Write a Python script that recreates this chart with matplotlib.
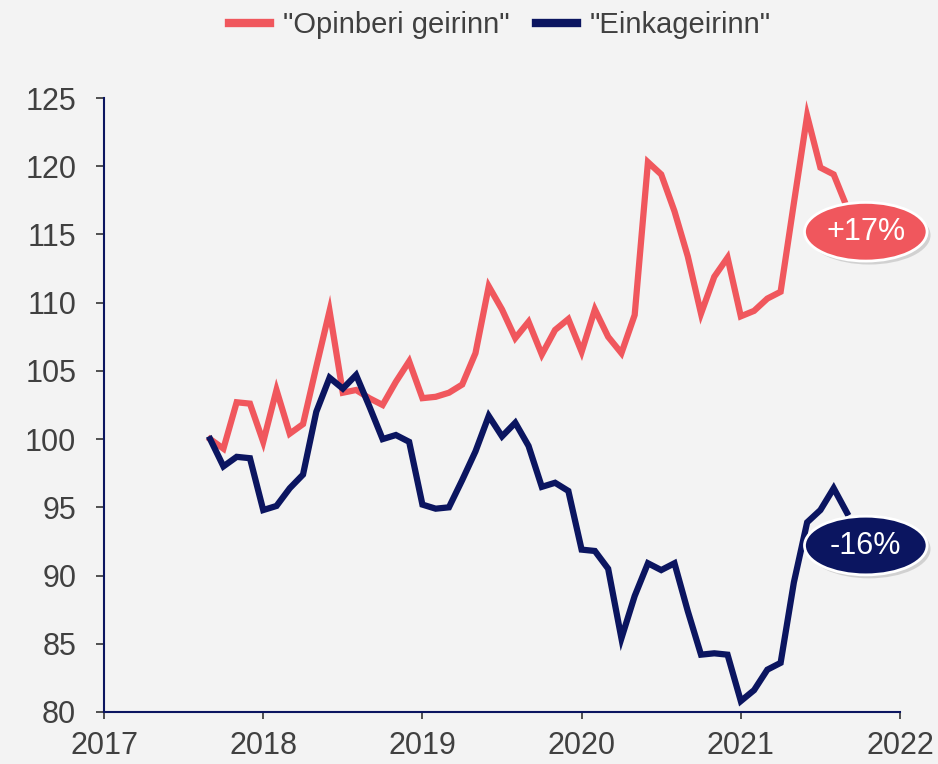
import matplotlib
matplotlib.use("Agg")
import matplotlib.pyplot as plt
import matplotlib.transforms as mtransforms
from matplotlib.patches import Ellipse
import pandas as pd

# monthly index, Sep 2017 = 100
months = pd.date_range("2017-09-01", periods=49, freq="MS")
opinberi = [100.0, 99.3, 102.7, 102.6, 99.8, 103.6, 100.4, 101.1, 105.3, 109.4,
            103.4, 103.6, 103.0, 102.5, 104.2, 105.7, 103.0, 103.1, 103.4, 104.0,
            106.3, 111.2, 109.5, 107.4, 108.6, 106.2, 108.0, 108.8, 106.4, 109.5,
            107.5, 106.3, 109.1, 120.3, 119.4, 116.7, 113.4, 109.2, 111.9, 113.3,
            109.0, 109.4, 110.3, 110.8, 117.3, 123.7, 119.9, 119.4, 117.0]
einka = [100.0, 98.0, 98.7, 98.6, 94.8, 95.1, 96.4, 97.4, 102.0, 104.5,
         103.7, 104.7, 102.4, 100.0, 100.3, 99.8, 95.2, 94.9, 95.0, 97.0,
         99.1, 101.7, 100.2, 101.2, 99.5, 96.5, 96.8, 96.2, 91.9, 91.8,
         90.5, 85.4, 88.5, 90.9, 90.4, 90.9, 87.4, 84.2, 84.3, 84.2,
         80.8, 81.6, 83.1, 83.6, 89.5, 93.9, 94.8, 96.4, 94.6]
series_names = ['"Opinberi geirinn"', '"Einkageirinn"']
change_labels = ["+17%", "-16%"]
years = [2017, 2018, 2019, 2020, 2021, 2022]
yticks = [80, 85, 90, 95, 100, 105, 110, 115, 120, 125]

red = "#F0575D"
navy = "#0B1560"
bg = "#F3F3F3"
txt = "#404040"

plt.rcParams["font.family"] = ["Liberation Sans", "DejaVu Sans"]

x = months.year + (months.month - 1) / 12.0

fig = plt.figure(figsize=(9.38, 7.64), dpi=100, facecolor=bg)
ax = fig.add_axes([0.1109, 0.0681, 0.8486, 0.8036], facecolor=bg)

ax.plot(x, opinberi, color=red, lw=4.5, solid_joinstyle="miter", label=series_names[0], zorder=3)
ax.plot(x, einka, color=navy, lw=4.5, solid_joinstyle="miter", label=series_names[1], zorder=3)

ax.set_xlim(2017, 2022)
ax.set_ylim(80, 125)
ax.set_xticks(years)
ax.set_yticks(yticks)

for s in ["top", "right"]:
    ax.spines[s].set_visible(False)
for s in ["left", "bottom"]:
    ax.spines[s].set_color(navy)
    ax.spines[s].set_linewidth(1.5)
ax.tick_params(axis="y", length=6, width=1.2, color="#333333", pad=14,
               labelsize=22, labelcolor=txt)
ax.tick_params(axis="x", length=5, width=1.2, color="#333333", pad=9,
               labelsize=22, labelcolor=txt)

# ellipse badges at line ends
badge_pos = [(2021.785, 115.2), (2021.785, 92.2)]
badge_col = [red, navy]
shadow_tr = mtransforms.offset_copy(ax.transData, fig=fig, x=2.5, y=-2.5, units="points")
for (bx, by), col, lab in zip(badge_pos, badge_col, change_labels):
    sh = Ellipse((bx, by), 0.77, 4.3, facecolor="#a0a0a0", edgecolor="none",
                 alpha=0.4, transform=shadow_tr, clip_on=False, zorder=4)
    ax.add_patch(sh)
    el = Ellipse((bx, by), 0.77, 4.3, facecolor=col, edgecolor="white",
                 lw=2, clip_on=False, zorder=5)
    ax.add_patch(el)
    ax.text(bx, by, lab, color="white", fontsize=22, ha="center", va="center",
            zorder=6, clip_on=False)

leg = fig.legend(loc="upper center", bbox_to_anchor=(0.533, 1.02), ncol=2, frameon=False,
                 fontsize=21, handlelength=1.4, handletextpad=0.45, columnspacing=0.9,
                 labelcolor=txt)
for h in leg.legend_handles:
    h.set_linewidth(6)

fig.savefig("out.png", dpi=100, facecolor=bg)
